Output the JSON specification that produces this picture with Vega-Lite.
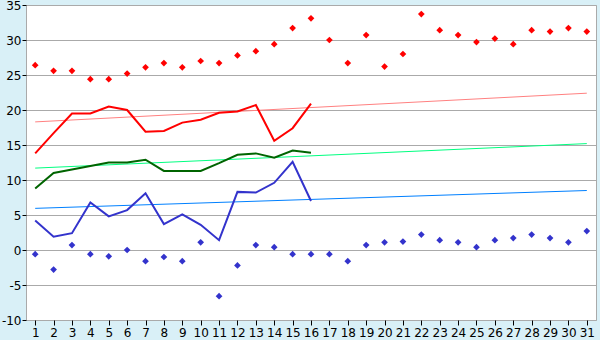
{
  "$schema": "https://vega.github.io/schema/vega-lite/v6.json",
  "width": 570,
  "height": 315,
  "autosize": {"type": "none"},
  "padding": {"left": 26, "top": 5, "right": 4, "bottom": 20},
  "background": "#d9f0f7",
  "config": {
    "view": {"fill": "white", "stroke": "#aaaaaa", "strokeWidth": 1},
    "axis": {"labelFont": "DejaVu Sans", "labelFontSize": 12, "labelColor": "black", "tickColor": "black", "domainColor": "#aaaaaa", "title": null}
  },
  "datasets": {
    "pts": [
      {"day": 1, "series": "Max", "value": 26.4}, {"day": 2, "series": "Max", "value": 25.6}, {"day": 3, "series": "Max", "value": 25.6},
      {"day": 4, "series": "Max", "value": 24.4}, {"day": 5, "series": "Max", "value": 24.4}, {"day": 6, "series": "Max", "value": 25.2},
      {"day": 7, "series": "Max", "value": 26.1}, {"day": 8, "series": "Max", "value": 26.7}, {"day": 9, "series": "Max", "value": 26.1},
      {"day": 10, "series": "Max", "value": 27.0}, {"day": 11, "series": "Max", "value": 26.7}, {"day": 12, "series": "Max", "value": 27.8},
      {"day": 13, "series": "Max", "value": 28.4}, {"day": 14, "series": "Max", "value": 29.4}, {"day": 15, "series": "Max", "value": 31.7},
      {"day": 16, "series": "Max", "value": 33.1}, {"day": 17, "series": "Max", "value": 30.0}, {"day": 18, "series": "Max", "value": 26.7},
      {"day": 19, "series": "Max", "value": 30.7}, {"day": 20, "series": "Max", "value": 26.2}, {"day": 21, "series": "Max", "value": 28.0},
      {"day": 22, "series": "Max", "value": 33.7}, {"day": 23, "series": "Max", "value": 31.4}, {"day": 24, "series": "Max", "value": 30.7},
      {"day": 25, "series": "Max", "value": 29.7}, {"day": 26, "series": "Max", "value": 30.2}, {"day": 27, "series": "Max", "value": 29.4},
      {"day": 28, "series": "Max", "value": 31.4}, {"day": 29, "series": "Max", "value": 31.2}, {"day": 30, "series": "Max", "value": 31.7},
      {"day": 31, "series": "Max", "value": 31.2},
      {"day": 1, "series": "Min", "value": -0.6}, {"day": 2, "series": "Min", "value": -2.8}, {"day": 3, "series": "Min", "value": 0.7},
      {"day": 4, "series": "Min", "value": -0.6}, {"day": 5, "series": "Min", "value": -0.9}, {"day": 6, "series": "Min", "value": 0.0},
      {"day": 7, "series": "Min", "value": -1.6}, {"day": 8, "series": "Min", "value": -1.0}, {"day": 9, "series": "Min", "value": -1.6},
      {"day": 10, "series": "Min", "value": 1.1}, {"day": 11, "series": "Min", "value": -6.6}, {"day": 12, "series": "Min", "value": -2.2},
      {"day": 13, "series": "Min", "value": 0.7}, {"day": 14, "series": "Min", "value": 0.4}, {"day": 15, "series": "Min", "value": -0.6},
      {"day": 16, "series": "Min", "value": -0.6}, {"day": 17, "series": "Min", "value": -0.6}, {"day": 18, "series": "Min", "value": -1.6},
      {"day": 19, "series": "Min", "value": 0.7}, {"day": 20, "series": "Min", "value": 1.1}, {"day": 21, "series": "Min", "value": 1.2},
      {"day": 22, "series": "Min", "value": 2.2}, {"day": 23, "series": "Min", "value": 1.4}, {"day": 24, "series": "Min", "value": 1.1},
      {"day": 25, "series": "Min", "value": 0.4}, {"day": 26, "series": "Min", "value": 1.4}, {"day": 27, "series": "Min", "value": 1.7},
      {"day": 28, "series": "Min", "value": 2.2}, {"day": 29, "series": "Min", "value": 1.7}, {"day": 30, "series": "Min", "value": 1.1},
      {"day": 31, "series": "Min", "value": 2.7}
    ],
    "lines": [
      {"day": 1, "series": "Max avg", "value": 13.8}, {"day": 2, "series": "Max avg", "value": 16.7}, {"day": 3, "series": "Max avg", "value": 19.5},
      {"day": 4, "series": "Max avg", "value": 19.5}, {"day": 5, "series": "Max avg", "value": 20.5}, {"day": 6, "series": "Max avg", "value": 20.0},
      {"day": 7, "series": "Max avg", "value": 16.9}, {"day": 8, "series": "Max avg", "value": 17.0}, {"day": 9, "series": "Max avg", "value": 18.2},
      {"day": 10, "series": "Max avg", "value": 18.6}, {"day": 11, "series": "Max avg", "value": 19.6}, {"day": 12, "series": "Max avg", "value": 19.8},
      {"day": 13, "series": "Max avg", "value": 20.7}, {"day": 14, "series": "Max avg", "value": 15.6}, {"day": 15, "series": "Max avg", "value": 17.4},
      {"day": 16, "series": "Max avg", "value": 20.9},
      {"day": 1, "series": "Mean avg", "value": 8.8}, {"day": 2, "series": "Mean avg", "value": 11.0}, {"day": 3, "series": "Mean avg", "value": 11.5},
      {"day": 4, "series": "Mean avg", "value": 12.0}, {"day": 5, "series": "Mean avg", "value": 12.5}, {"day": 6, "series": "Mean avg", "value": 12.5},
      {"day": 7, "series": "Mean avg", "value": 12.9}, {"day": 8, "series": "Mean avg", "value": 11.3}, {"day": 9, "series": "Mean avg", "value": 11.3},
      {"day": 10, "series": "Mean avg", "value": 11.3}, {"day": 11, "series": "Mean avg", "value": 12.4}, {"day": 12, "series": "Mean avg", "value": 13.6},
      {"day": 13, "series": "Mean avg", "value": 13.8}, {"day": 14, "series": "Mean avg", "value": 13.2}, {"day": 15, "series": "Mean avg", "value": 14.2},
      {"day": 16, "series": "Mean avg", "value": 13.9},
      {"day": 1, "series": "Min avg", "value": 4.2}, {"day": 2, "series": "Min avg", "value": 1.9}, {"day": 3, "series": "Min avg", "value": 2.4},
      {"day": 4, "series": "Min avg", "value": 6.8}, {"day": 5, "series": "Min avg", "value": 4.8}, {"day": 6, "series": "Min avg", "value": 5.7},
      {"day": 7, "series": "Min avg", "value": 8.1}, {"day": 8, "series": "Min avg", "value": 3.7}, {"day": 9, "series": "Min avg", "value": 5.1},
      {"day": 10, "series": "Min avg", "value": 3.6}, {"day": 11, "series": "Min avg", "value": 1.4}, {"day": 12, "series": "Min avg", "value": 8.3},
      {"day": 13, "series": "Min avg", "value": 8.2}, {"day": 14, "series": "Min avg", "value": 9.6}, {"day": 15, "series": "Min avg", "value": 12.6},
      {"day": 16, "series": "Min avg", "value": 7.0}
    ],
    "trends": [
      {"day": 1, "series": "Max trend", "value": 18.3}, {"day": 31, "series": "Max trend", "value": 22.4},
      {"day": 1, "series": "Mean trend", "value": 11.7}, {"day": 31, "series": "Mean trend", "value": 15.2},
      {"day": 1, "series": "Min trend", "value": 5.95}, {"day": 31, "series": "Min trend", "value": 8.5}
    ]
  },
  "encoding": {
    "x": {"field": "day", "type": "quantitative", "scale": {"domain": [0.5, 31.5], "nice": false, "zero": false},
          "axis": {"values": [1,2,3,4,5,6,7,8,9,10,11,12,13,14,15,16,17,18,19,20,21,22,23,24,25,26,27,28,29,30,31], "grid": false, "tickSize": 5, "labelPadding": 2, "domain": false}},
    "y": {"field": "value", "type": "quantitative", "scale": {"domain": [-10, 35], "nice": false, "zero": false},
          "axis": {"values": [-10,-5,0,5,10,15,20,25,30,35], "labelExpr": "toString(datum.value)", "grid": true, "gridColor": "#aaaaaa", "gridOpacity": 1, "tickSize": 4, "labelPadding": 1, "domain": false}},
    "color": {"field": "series", "type": "nominal", "legend": null,
      "scale": {"domain": ["Max", "Min", "Max avg", "Mean avg", "Min avg", "Max trend", "Mean trend", "Min trend"],
                "range": ["#ff0000", "#3333cc", "#ff0000", "#006400", "#3333cc", "#ff8080", "#00ff80", "#0080ff"]}}
  },
  "layer": [
    {"data": {"name": "trends"}, "mark": {"type": "line", "strokeWidth": 1}},
    {"data": {"name": "lines"}, "mark": {"type": "line", "strokeWidth": 2}},
    {"data": {"name": "pts"}, "mark": {"type": "point", "shape": "diamond", "filled": true, "size": 45, "opacity": 1}}
  ]
}
